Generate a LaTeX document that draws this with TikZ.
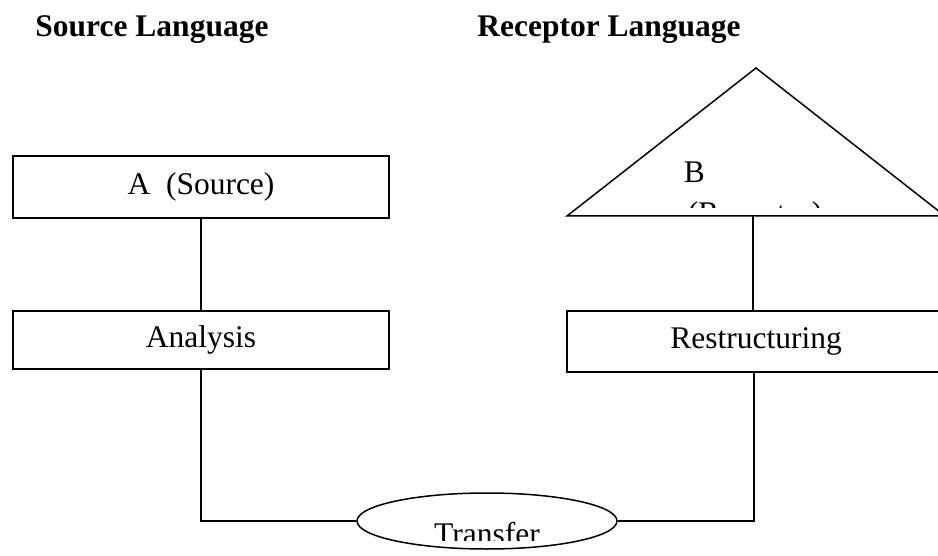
\documentclass[tikz,border=0pt]{standalone}
\usepackage{fontspec}
\setmainfont{Liberation Serif}
\usetikzlibrary{shapes.geometric}
\begin{document}
\begin{tikzpicture}[x=1pt,y=-1pt, line width=1.5pt,
 txt/.style={inner sep=0pt, font=\fontsize{31.5}{38}\selectfont},
 box/.style={txt, draw, rectangle},
 head/.style={inner sep=0pt, font=\fontsize{31.5}{38}\selectfont\bfseries, anchor=base}]
\useasboundingbox (0,0) rectangle (938,556);
\clip (0,0) rectangle (938,556);
% headings
\node[head] (hs) at (152,37) {Source Language};
\node[head] (hr) at (609,37) {Receptor Language};
% left column
\node[box, minimum width=376pt, minimum height=62pt] (a) at (201,187) {A\ \ (Source)};
\node[box, minimum width=376pt, minimum height=58pt] (an) at (201,340) {Analysis};
% right column
\coordinate (tl) at (567,216);
\coordinate (tp) at (756,68);
\coordinate (trt) at (945,216);
\draw (tl) -- (tp) -- (trt) -- cycle;
\node[txt, anchor=base west] (b) at (683,183) {B};
\begin{scope}
\clip (0,0) rectangle (938,207.5);
\node[txt, anchor=base west] (rec) at (687,224) {(Receptor)};
\end{scope}
\node[box, minimum width=378pt, minimum height=61pt] (rs) at (756,341.5) {Restructuring};
% transfer
\node[draw, ellipse, inner sep=0pt, minimum width=260pt, minimum height=56pt] (tr) at (487,521) {};
\begin{scope}
\clip (0,0) rectangle (938,540);
\node[txt, anchor=base] (trt) at (487,544) {Transfer};
\end{scope}
% connectors
\coordinate (tb) at (753,216);
\coordinate (rb) at (754,372);
\draw (a.south) -- (an.north);
\draw (an.south) |- (tr.west);
\draw (tb) -- (tb |- rs.north);
\draw (rb) |- (tr.east);
\end{tikzpicture}
\end{document}
